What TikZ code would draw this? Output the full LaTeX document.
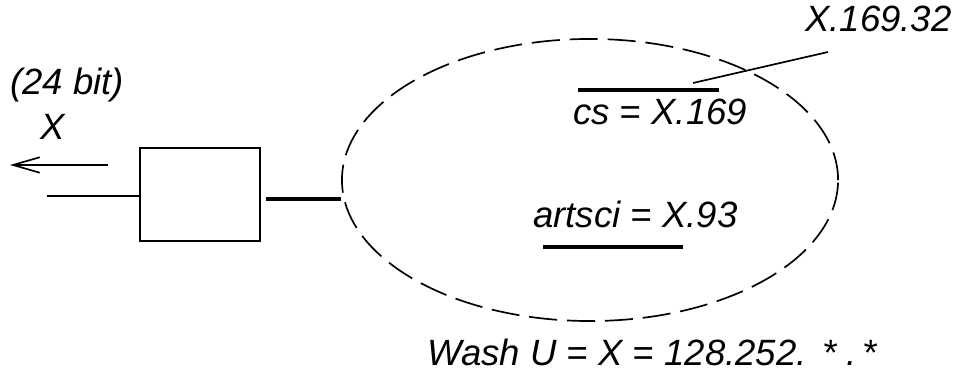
\documentclass[tikz,border=0pt]{standalone}
\usepackage{fontspec}
\setmainfont{Liberation Sans}
\usetikzlibrary{positioning,arrows.meta,shapes.geometric}

\begin{document}
\begin{tikzpicture}[
    x=0.025cm, y=-0.025cm,
    font=\fontsize{26}{31}\selectfont\itshape,
    lbl/.style={inner sep=0pt, anchor=base west},
    router/.style={draw, line width=1.2pt, minimum width=3cm, minimum height=2.325cm},
    campus/.style={draw, ellipse, line width=1.2pt, dash pattern=on 20pt off 7pt,
        minimum width=12.4cm, minimum height=7.05cm},
    link/.style={line width=1.2pt},
    subnet/.style={line width=3pt},
    arrow/.style={link, -{Straight Barb[length=19pt,width=11pt,line width=1.2pt]}}
]
\useasboundingbox (0,0) rectangle (957,372);

% ------------------------------------------------------------
% ROUTER AND UPLINK
% ------------------------------------------------------------
\node[router] (rtr) at (200,194.5) {};
\node[lbl] (bits) at (10,95) {(24 bit)};
\node[lbl] (addr) at (40,140) {X};

\coordinate (outA) at (108,165);
\coordinate (outB) at (10,165);
\coordinate (inA) at (47,196);
\draw[arrow] (outA) -- (outB);
\draw[link] (inA) -- (inA -| rtr.west);

% ------------------------------------------------------------
% CAMPUS NETWORK
% ------------------------------------------------------------
\node[campus] (net) at (590,180) {};
\coordinate (lnA) at (266,199);
\coordinate (lnB) at (341,199);
\draw[subnet] (lnA) -- (lnB);

% subnet cs
\coordinate (csA) at (578,90);
\coordinate (csB) at (719,90);
\draw[subnet] (csA) -- (csB);
\node[lbl] (cs) at (573,125) {cs = X.169};
\node[lbl] (host) at (805,32) {X.169.32};
\coordinate (hostA) at (693,83);
\draw[link] (hostA) -- (828,52);

% subnet artsci
\node[lbl] (arts) at (533,228) {artsci = X.93};
\coordinate (asA) at (543,247);
\coordinate (asB) at (683,247);
\draw[subnet] (asA) -- (asB);

% ------------------------------------------------------------
% CAPTION
% ------------------------------------------------------------
\node[lbl] (wash) at (427,365) {Wash U = X = 128.252.\hspace{0.43em}* .\,*};

\end{tikzpicture}
\end{document}
